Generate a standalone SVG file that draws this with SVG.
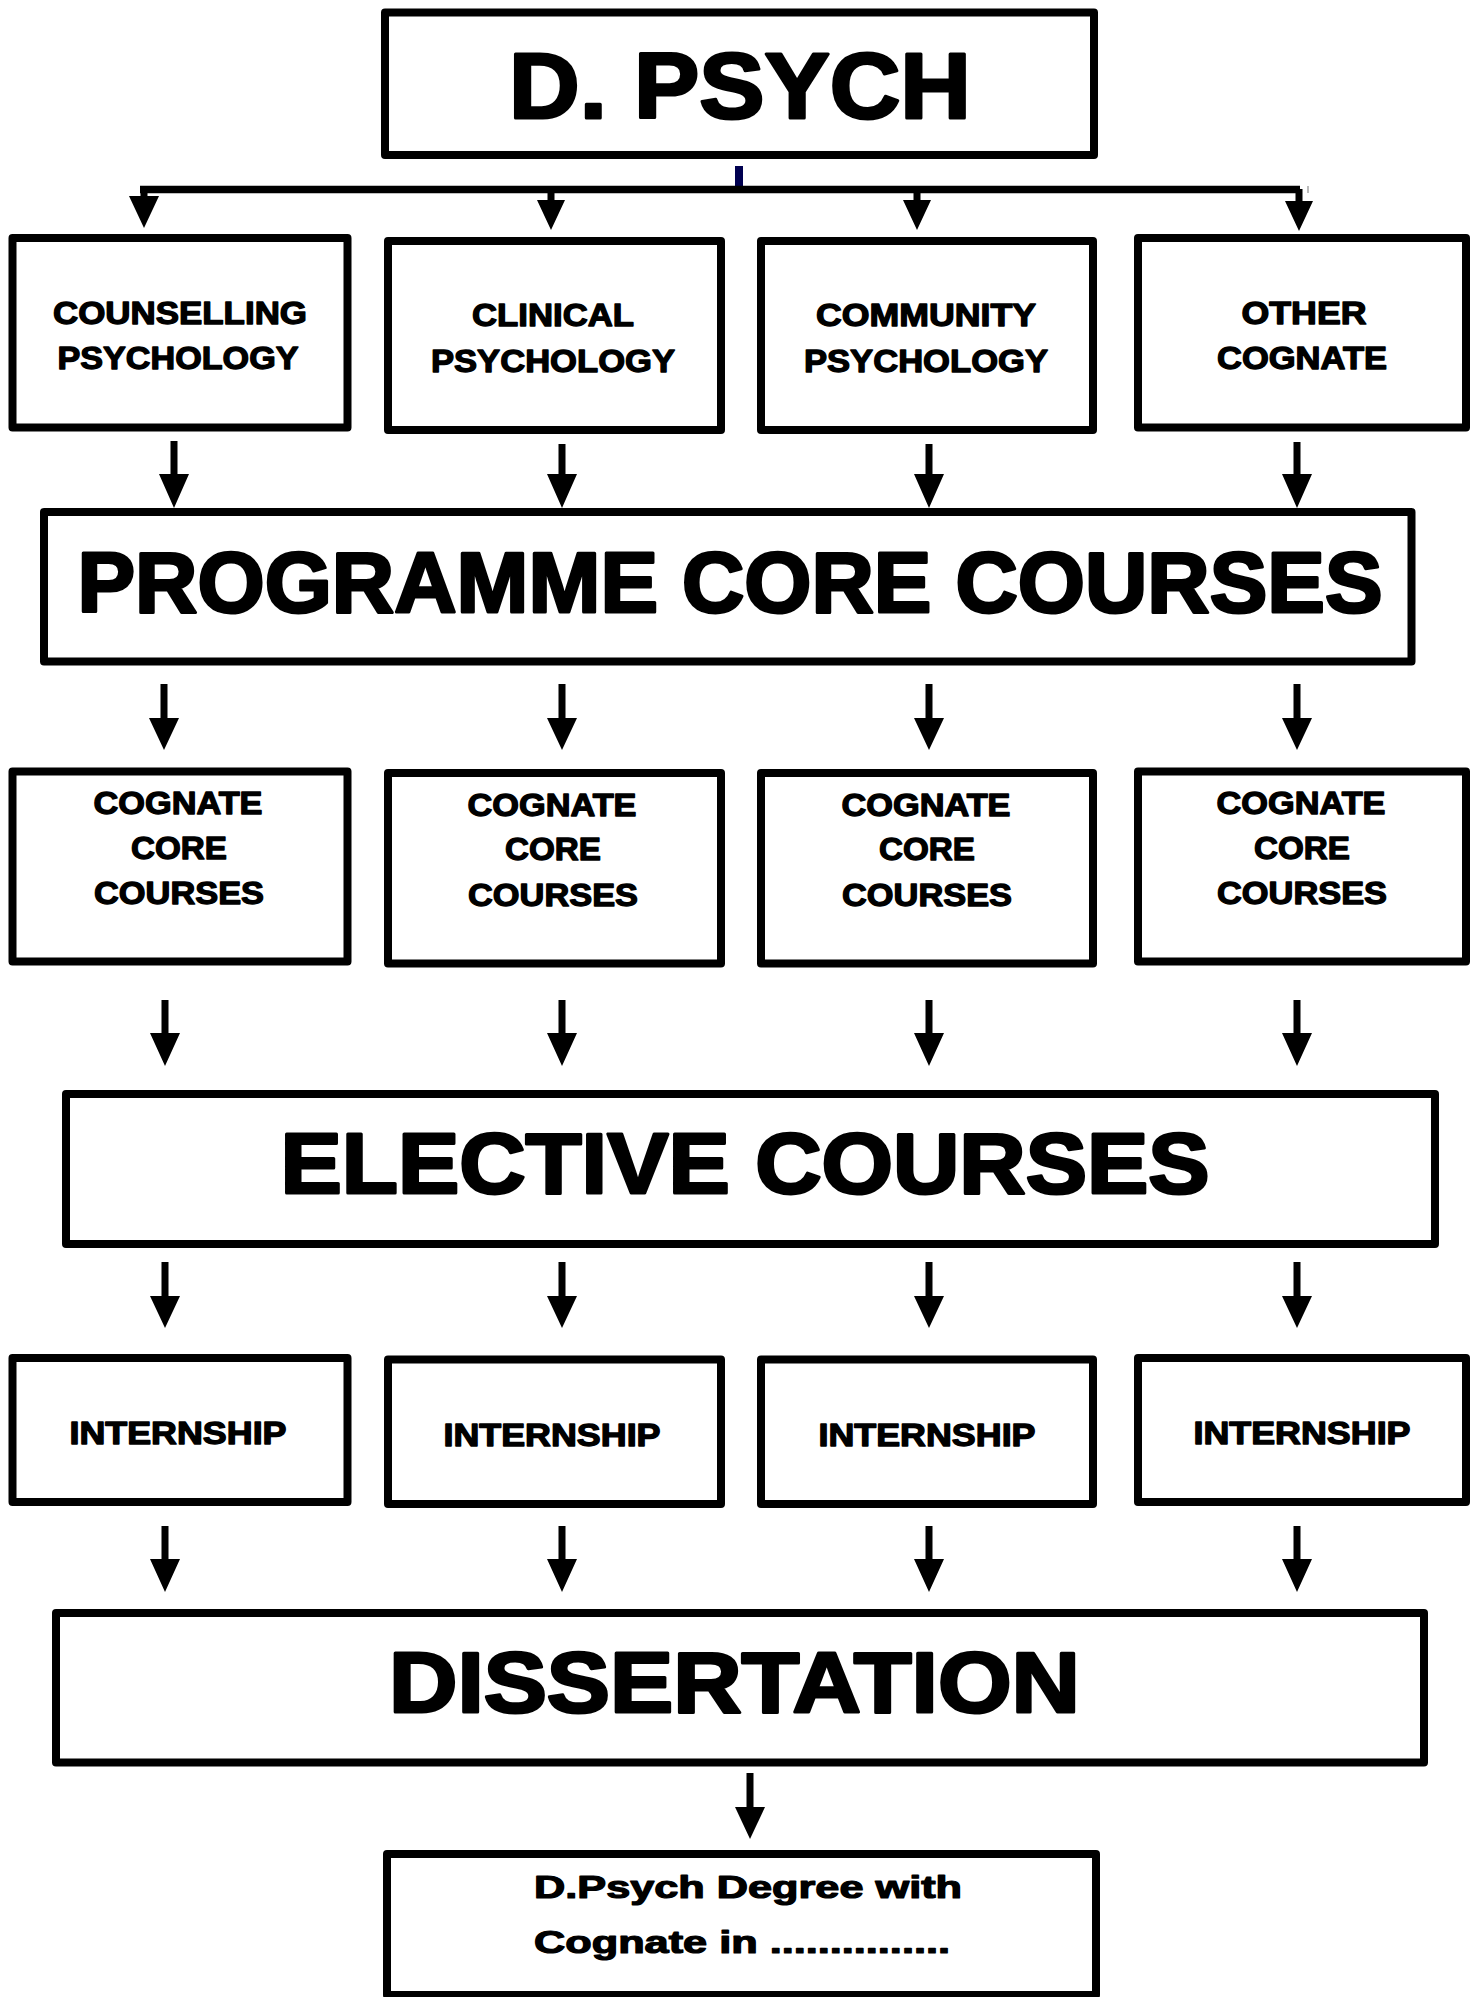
<svg xmlns="http://www.w3.org/2000/svg" width="1470" height="1997" viewBox="0 0 1470 1997">
<style>
.box{fill:#fff;stroke:#000;stroke-width:8;stroke-linejoin:round}
.t{font-family:"Liberation Sans",Arial,sans-serif;font-weight:bold;fill:#000;stroke:#000;text-anchor:middle;stroke-linejoin:round}
.s{font-size:31px;stroke-width:1.3}
.b{font-size:85px;stroke-width:3}
.f{font-size:31px;stroke-width:1.2;text-anchor:start}
.stem{stroke:#000;stroke-width:7;fill:none}
.head{fill:#000}
</style>
<rect width="1470" height="1997" fill="#fff"/>
<g id="connectors">
  <rect x="735" y="166" width="8" height="23" fill="#000050"/>
  <path d="M140 189.5 H1300" stroke="#000" stroke-width="7.5" fill="none"/>
  <rect x="1307" y="186" width="2" height="7" fill="#bbb"/>
  <path class="stem" d="M144 186 V197 M551 189 V201 M917 189 V201 M1299 189 V202"/>
  <path class="head" d="M129 196 L159 196 L144 228 Z M537 200 L565 200 L551 230 Z M903 200 L931 200 L917 230 Z M1285 201 L1313 201 L1299 231 Z"/>
  <path class="stem" d="M174 441 V475 M562 444 V475 M929 444 V475 M1297 442 V475"/>
  <path class="head" d="M159 474 L189 474 L174 508 Z M547 474 L577 474 L562 508 Z M914 474 L944 474 L929 508 Z M1282 474 L1312 474 L1297 508 Z"/>
  <path class="stem" d="M164 684 V719 M562 684 V719 M929 684 V719 M1297 684 V719"/>
  <path class="head" d="M149 718 L179 718 L164 750 Z M547 718 L577 718 L562 750 Z M914 718 L944 718 L929 750 Z M1282 718 L1312 718 L1297 750 Z"/>
  <path class="stem" d="M165 1000 V1034 M562 1000 V1034 M929 1000 V1034 M1297 1000 V1034"/>
  <path class="head" d="M150 1033 L180 1033 L165 1066 Z M547 1033 L577 1033 L562 1066 Z M914 1033 L944 1033 L929 1066 Z M1282 1033 L1312 1033 L1297 1066 Z"/>
  <path class="stem" d="M165 1262 V1297 M562 1262 V1297 M929 1262 V1297 M1297 1262 V1297"/>
  <path class="head" d="M150 1296 L180 1296 L165 1328 Z M547 1296 L577 1296 L562 1328 Z M914 1296 L944 1296 L929 1328 Z M1282 1296 L1312 1296 L1297 1328 Z"/>
  <path class="stem" d="M165 1526 V1560 M562 1526 V1560 M929 1526 V1560 M1297 1526 V1560"/>
  <path class="head" d="M150 1559 L180 1559 L165 1592 Z M547 1559 L577 1559 L562 1592 Z M914 1559 L944 1559 L929 1592 Z M1282 1559 L1312 1559 L1297 1592 Z"/>
  <path class="stem" d="M750 1773 V1808"/>
  <path class="head" d="M735 1807 L765 1807 L750 1839 Z"/>
</g>
<g id="dpsych">
  <rect class="box" x="385" y="12.5" width="709" height="142.5"/>
  <text class="t" x="740" y="118" font-size="93" stroke-width="3" textLength="462" lengthAdjust="spacingAndGlyphs">D. PSYCH</text>
</g>
<g id="counselling">
  <rect class="box" x="12.5" y="238" width="335" height="189.5"/>
  <text class="t s" x="180" y="324" textLength="254" lengthAdjust="spacingAndGlyphs">COUNSELLING</text>
  <text class="t s" x="178" y="369" textLength="241" lengthAdjust="spacingAndGlyphs">PSYCHOLOGY</text>
</g>
<g id="clinical">
  <rect class="box" x="388" y="241" width="333" height="189"/>
  <text class="t s" x="553" y="326" textLength="162" lengthAdjust="spacingAndGlyphs">CLINICAL</text>
  <text class="t s" x="553" y="372" textLength="244" lengthAdjust="spacingAndGlyphs">PSYCHOLOGY</text>
</g>
<g id="community">
  <rect class="box" x="761" y="241" width="332" height="189"/>
  <text class="t s" x="926" y="326" textLength="220" lengthAdjust="spacingAndGlyphs">COMMUNITY</text>
  <text class="t s" x="926" y="372" textLength="244" lengthAdjust="spacingAndGlyphs">PSYCHOLOGY</text>
</g>
<g id="other">
  <rect class="box" x="1138" y="238" width="328" height="189.5"/>
  <text class="t s" x="1304" y="324" textLength="125" lengthAdjust="spacingAndGlyphs">OTHER</text>
  <text class="t s" x="1302" y="369" textLength="170" lengthAdjust="spacingAndGlyphs">COGNATE</text>
</g>
<g id="programme">
  <rect class="box" x="44" y="512" width="1367.5" height="149.5"/>
  <text class="t b" x="730" y="612" textLength="1305" lengthAdjust="spacingAndGlyphs">PROGRAMME CORE COURSES</text>
</g>
<g id="cognate1">
  <rect class="box" x="12.5" y="771.5" width="335" height="190"/>
  <text class="t s" x="178" y="814" textLength="169" lengthAdjust="spacingAndGlyphs">COGNATE</text>
  <text class="t s" x="179" y="858.5" textLength="96" lengthAdjust="spacingAndGlyphs">CORE</text>
  <text class="t s" x="179" y="903.5" textLength="170" lengthAdjust="spacingAndGlyphs">COURSES</text>
</g>
<g id="cognate2">
  <rect class="box" x="388" y="773" width="333" height="190.5"/>
  <text class="t s" x="552" y="815.5" textLength="169" lengthAdjust="spacingAndGlyphs">COGNATE</text>
  <text class="t s" x="553" y="860" textLength="96" lengthAdjust="spacingAndGlyphs">CORE</text>
  <text class="t s" x="553" y="905.5" textLength="170" lengthAdjust="spacingAndGlyphs">COURSES</text>
</g>
<g id="cognate3">
  <rect class="box" x="761" y="773" width="332" height="190.5"/>
  <text class="t s" x="926" y="815.5" textLength="169" lengthAdjust="spacingAndGlyphs">COGNATE</text>
  <text class="t s" x="927" y="860" textLength="96" lengthAdjust="spacingAndGlyphs">CORE</text>
  <text class="t s" x="927" y="905.5" textLength="170" lengthAdjust="spacingAndGlyphs">COURSES</text>
</g>
<g id="cognate4">
  <rect class="box" x="1138" y="771.5" width="328" height="190"/>
  <text class="t s" x="1301" y="814" textLength="169" lengthAdjust="spacingAndGlyphs">COGNATE</text>
  <text class="t s" x="1302" y="858.5" textLength="96" lengthAdjust="spacingAndGlyphs">CORE</text>
  <text class="t s" x="1302" y="903.5" textLength="170" lengthAdjust="spacingAndGlyphs">COURSES</text>
</g>
<g id="elective">
  <rect class="box" x="66" y="1094" width="1369" height="150"/>
  <text class="t b" x="745" y="1192.5" textLength="929" lengthAdjust="spacingAndGlyphs">ELECTIVE COURSES</text>
</g>
<g id="internship1">
  <rect class="box" x="12.5" y="1358" width="335" height="144"/>
  <text class="t s" x="178" y="1444" textLength="217" lengthAdjust="spacingAndGlyphs">INTERNSHIP</text>
</g>
<g id="internship2">
  <rect class="box" x="388" y="1359.5" width="333" height="144.5"/>
  <text class="t s" x="552" y="1445.5" textLength="217" lengthAdjust="spacingAndGlyphs">INTERNSHIP</text>
</g>
<g id="internship3">
  <rect class="box" x="761" y="1359.5" width="332" height="144.5"/>
  <text class="t s" x="927" y="1445.5" textLength="217" lengthAdjust="spacingAndGlyphs">INTERNSHIP</text>
</g>
<g id="internship4">
  <rect class="box" x="1138" y="1358" width="328" height="144"/>
  <text class="t s" x="1302" y="1444" textLength="217" lengthAdjust="spacingAndGlyphs">INTERNSHIP</text>
</g>
<g id="dissertation">
  <rect class="box" x="56" y="1613" width="1368" height="149.5"/>
  <text class="t b" x="734.5" y="1711.5" textLength="691" lengthAdjust="spacingAndGlyphs">DISSERTATION</text>
</g>
<g id="degree">
  <rect class="box" x="387" y="1854" width="709" height="141"/>
  <text class="t f" x="534" y="1898" textLength="428" lengthAdjust="spacingAndGlyphs">D.Psych Degree with</text>
  <text class="t f" x="534" y="1953" textLength="416" lengthAdjust="spacingAndGlyphs">Cognate in ...............</text>
</g>
</svg>
